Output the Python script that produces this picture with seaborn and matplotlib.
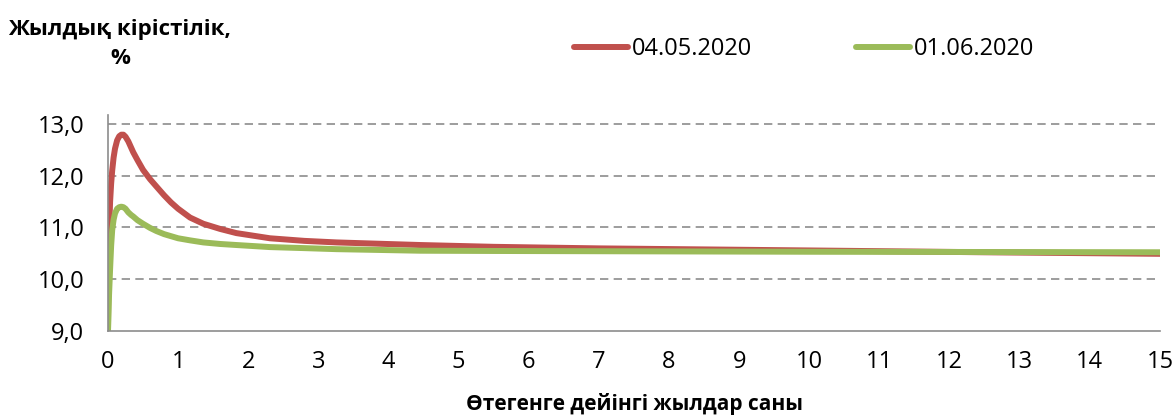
import pandas as pd
import matplotlib
matplotlib.use('Agg')
import matplotlib.pyplot as plt
import seaborn as sns

# Yield curve data (years to maturity, % yield)
years = [0, 0.005, 0.015, 0.03, 0.045, 0.06, 0.08, 0.1, 0.13, 0.16, 0.19, 0.22,
         0.25, 0.29, 0.33, 0.36, 0.42, 0.5, 0.6, 0.69, 0.8, 0.9, 1.0, 1.17,
         1.36, 1.6, 1.83, 2.31, 2.8, 3.26, 4.45, 5.5, 7, 8.5, 10, 12.5, 15]
yield_0405 = [9.2, 10.0, 10.9, 11.5, 11.85, 12.1, 12.35, 12.52, 12.68, 12.76, 12.79, 12.79,
              12.75, 12.66, 12.54, 12.45, 12.3, 12.11, 11.93, 11.79, 11.62, 11.48, 11.36, 11.19,
              11.07, 10.97, 10.89, 10.79, 10.74, 10.71, 10.66, 10.625, 10.595, 10.575, 10.555, 10.52, 10.49]
yield_0106 = [9.0, 9.2, 9.7, 10.2, 10.65, 10.95, 11.15, 11.27, 11.36, 11.39, 11.40, 11.39,
              11.36, 11.29, 11.24, 11.21, 11.14, 11.07, 10.99, 10.93, 10.87, 10.83, 10.79, 10.75,
              10.71, 10.68, 10.66, 10.62, 10.60, 10.58, 10.55, 10.545, 10.54, 10.535, 10.53, 10.525, 10.52]
dates = ['04.05.2020', '01.06.2020']
colors = ['#C0504D', '#9BBB59']
yticks = [9.0, 10.0, 11.0, 12.0, 13.0]
xticks = list(range(0, 16))

df = pd.concat([
    pd.DataFrame({'year': years, 'value': yield_0405, 'date': dates[0]}),
    pd.DataFrame({'year': years, 'value': yield_0106, 'date': dates[1]}),
])

sns.set_style('white')
plt.rcParams['font.family'] = ['Open Sans', 'DejaVu Sans']
plt.rcParams['text.color'] = 'black'

fig = plt.figure(figsize=(11.75, 4.17), dpi=100)
ax = fig.add_axes([108 / 1175, 86 / 417, (1160 - 108) / 1175, (331 - 115) / 417])

sns.lineplot(data=df, x='year', y='value', hue='date', hue_order=dates,
             palette=dict(zip(dates, colors)), lw=4.3, sort=False, ax=ax,
             legend=False)
for ln in ax.get_lines():
    ln.set_solid_capstyle('round')
    ln.set_solid_joinstyle('round')

ax.set_xlim(0, 15)
ax.set_ylim(9.0, 13.17)
ax.set_xticks(xticks)
ax.set_yticks(yticks)
ax.set_yticklabels([f'{v:.1f}'.replace('.', ',') for v in yticks])
for v in yticks[1:]:
    ax.axhline(v, color='#8c8c8c', lw=1.2, linestyle=(0, (5.0, 3.2)), zorder=0)

for side in ['top', 'right']:
    ax.spines[side].set_visible(False)
for side in ['left', 'bottom']:
    ax.spines[side].set_color('#8c8c8c')
    ax.spines[side].set_linewidth(1.2)
ax.tick_params(axis='both', direction='out', length=6, width=1.2, color='#8c8c8c',
               labelsize=17, labelcolor='black')
ax.tick_params(axis='x', pad=8)
ax.tick_params(axis='y', pad=11)
ax.set_xlabel('')
ax.set_ylabel('')

# axis titles
fig.text(634 / 1175, 1 - 404 / 417, 'Өтегенге дейінгі жылдар саны', fontsize=15,
         fontweight='bold', ha='center', va='center')
fig.text(120 / 1175, 1 - 30 / 417, 'Жылдық кірістілік,', fontsize=16, fontweight='bold',
         ha='center', va='center')
fig.text(120 / 1175, 1 - 58 / 417, '%', fontsize=16, fontweight='bold',
         ha='center', va='center')

handles = [plt.Line2D([], [], color=c, lw=4.3, solid_capstyle='round') for c in colors]
fig.legend(handles, dates, loc='center left', bbox_to_anchor=(574 / 1175, 1 - 49 / 417),
           ncol=2, frameon=False, fontsize=17, handlelength=2.3, handletextpad=0.15,
           columnspacing=4.4, borderaxespad=0, borderpad=0)

fig.savefig('out.png', dpi=100)
